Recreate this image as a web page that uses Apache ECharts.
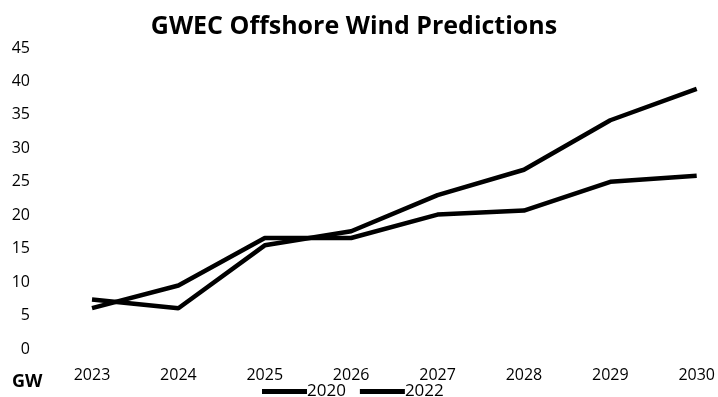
<!DOCTYPE html>
<html><head><meta charset="utf-8">
<script src="https://cdn.jsdelivr.net/npm/echarts@6/dist/echarts.min.js"></script>
<style>html,body{margin:0;padding:0;background:#fff}#c{width:718px;height:397px}</style>
</head><body><div id="c"></div>
<script>
const categories = ['2023','2024','2025','2026','2027','2028','2029','2030'];
const series2020 = [6.1, 9.5, 16.6, 16.6, 20.1, 20.7, 25.0, 25.9];
const series2022 = [7.4, 6.1, 15.5, 17.6, 23.0, 26.8, 34.2, 38.9];
const yTicks = [0, 45, 5];

const chart = echarts.init(document.getElementById('c'));
const font = 'Open Sans';
chart.setOption({
  animation: false,
  title: {
    text: 'GWEC Offshore Wind Predictions',
    left: 349, top: 9, textAlign: 'center',
    textStyle: {fontFamily: font, fontWeight: 'bold', fontSize: 25, color: '#000'}
  },
  graphic: [{
    type: 'text', left: 12, top: 373,
    style: {text: 'GW', fontFamily: font, fontWeight: 'bold', fontSize: 18, fill: '#000'}
  }],
  legend: {
    data: ['2020', '2022'], left: 257, top: 378,
    icon: 'rect', itemWidth: 45, itemHeight: 5, itemGap: 14,
    textStyle: {fontFamily: font, fontSize: 17, color: '#000', padding: [0,0,0,-5]}
  },
  grid: {left: 92, right: 21, top: 48, bottom: 48},
  xAxis: {
    type: 'category', data: categories, boundaryGap: false,
    axisLine: {show: false}, axisTick: {show: false},
    axisLabel: {fontFamily: font, fontSize: 16, color: '#000', margin: 18}
  },
  yAxis: {
    type: 'value', min: yTicks[0], max: yTicks[1], interval: yTicks[2],
    splitLine: {show: false}, axisLine: {show: false}, axisTick: {show: false},
    axisLabel: {fontFamily: font, fontSize: 16, color: '#000', margin: 62}
  },
  series: [
    {name: '2020', type: 'line', data: series2020, showSymbol: false, symbol: 'none',
     lineStyle: {color: '#000', width: 4.5}, itemStyle: {color: '#000'}},
    {name: '2022', type: 'line', data: series2022, showSymbol: false, symbol: 'none',
     lineStyle: {color: '#000', width: 4.5}, itemStyle: {color: '#000'}}
  ]
});
</script></body></html>
